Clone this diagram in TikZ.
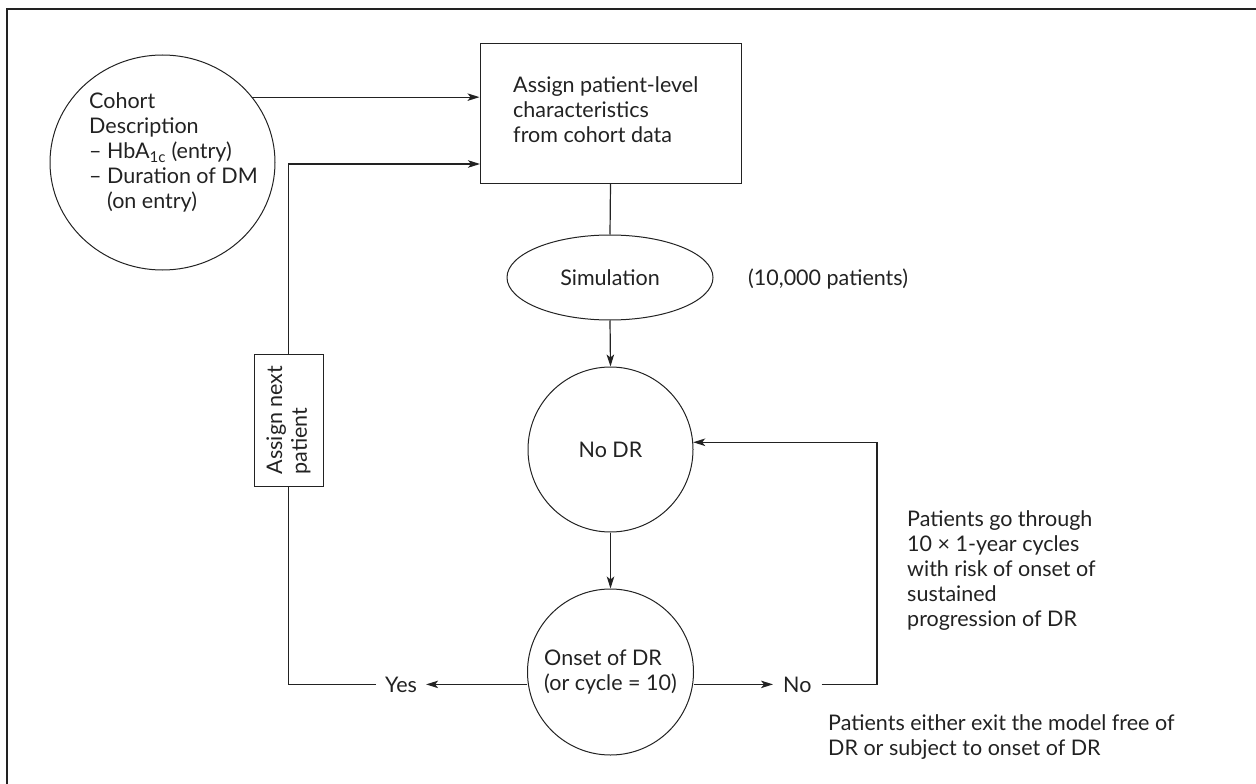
\documentclass[tikz,border=0pt]{standalone}
\usepackage{fontspec}
\setmainfont{Lato}
\usetikzlibrary{arrows.meta,shapes.geometric}
\definecolor{ink}{HTML}{222222}
\tikzset{
  every node/.style={text=ink},
  body/.style={font=\fontsize{21.5}{24.8}\selectfont},
  txt/.style={body, inner sep=0pt, align=left, anchor=base west},
  shapeline/.style={draw=ink, line width=1pt},
  conn/.style={draw=ink, line width=1.2pt},
  arr/.style={conn, -{Stealth[length=12pt,width=7.5pt,inset=3pt]}},
  label/.style={body, inner ysep=0pt, anchor=base west}
}
\begin{document}
\begin{tikzpicture}[x=1pt,y=-1pt]
\useasboundingbox (0,0) rectangle (1256,784);
% open frame: top and left rules
\draw[ink, line width=1.8pt] (7,784) -- (7,9) -- (1256,9);

% cohort description (anchor is the baseline of the last line)
\node[shapeline, ellipse, minimum width=225pt, minimum height=215pt, inner sep=0pt] (cohort) at (162.5,162.5) {};
\node[txt] (cohorttext) at (89,208) {Cohort\\Description\\– HbA\textsubscript{1c} (entry)\\– Duration of DM\\\phantom{– }(on entry)};

% patient-level characteristics box
\node[shapeline, rectangle, minimum width=261pt, minimum height=139pt, inner sep=0pt] (assign) at (610.5,113.5) {};
\node[txt] (assigntext) at (513,142) {Assign patient-level\\characteristics\\from cohort data};

% simulation
\node[shapeline, ellipse, minimum width=206pt, minimum height=85pt, inner sep=0pt, body] (sim) at (610,277.5) {Simulation};
\node[txt] (count) at (748,285) {(10,000 patients)};

% states
\node[shapeline, circle, minimum size=165pt, inner sep=0pt, body] (nodr) at (610.5,449.5) {No DR};
\node[shapeline, circle, minimum size=166pt, inner sep=0pt, align=left, body] (onset) at (610.5,672) {Onset of DR\\(or cycle = 10)};

% next patient box (rotated)
\node[shapeline, rectangle, rotate=90, minimum width=132pt, minimum height=69pt, inner sep=0pt, align=left, body] (nextbox) at (288.5,420) {Assign next\\patient};

% branch labels
\node[label, inner xsep=9pt] (yes) at (376,692) {Yes};
\node[label, inner xsep=10pt] (no) at (773,692) {No};

% notes
\node[txt] (cyclenote) at (907,626) {Patients go through\\10 × 1-year cycles\\with risk of onset of\\sustained\\progression of DR};
\node[txt] (exitnote) at (828,755) {Patients either exit the model free of\\DR or subject to onset of DR};

% helper points
\coordinate (entry2) at (480,164);
\coordinate (loopx) at (877,684);

% connectors
\draw[arr] (cohort.36) -- (cohort.36 -| assign.west);
\draw[arr] (nextbox.east) |- (entry2);
\draw[conn] (assign.south) -- (sim.north);
\draw[arr] (sim.south) -- (nodr.north);
\draw[arr] (nodr.south) -- (onset.north);
\draw[arr] (yes.east -| onset.west) -- (yes.east);
\draw[arr] (no.west -| onset.east) -- (no.west);
\draw[conn] (yes.west) -| (nextbox.west);
\draw[arr] (no.east) -| (loopx |- nodr.5) -- (nodr.5);
\end{tikzpicture}
\end{document}
